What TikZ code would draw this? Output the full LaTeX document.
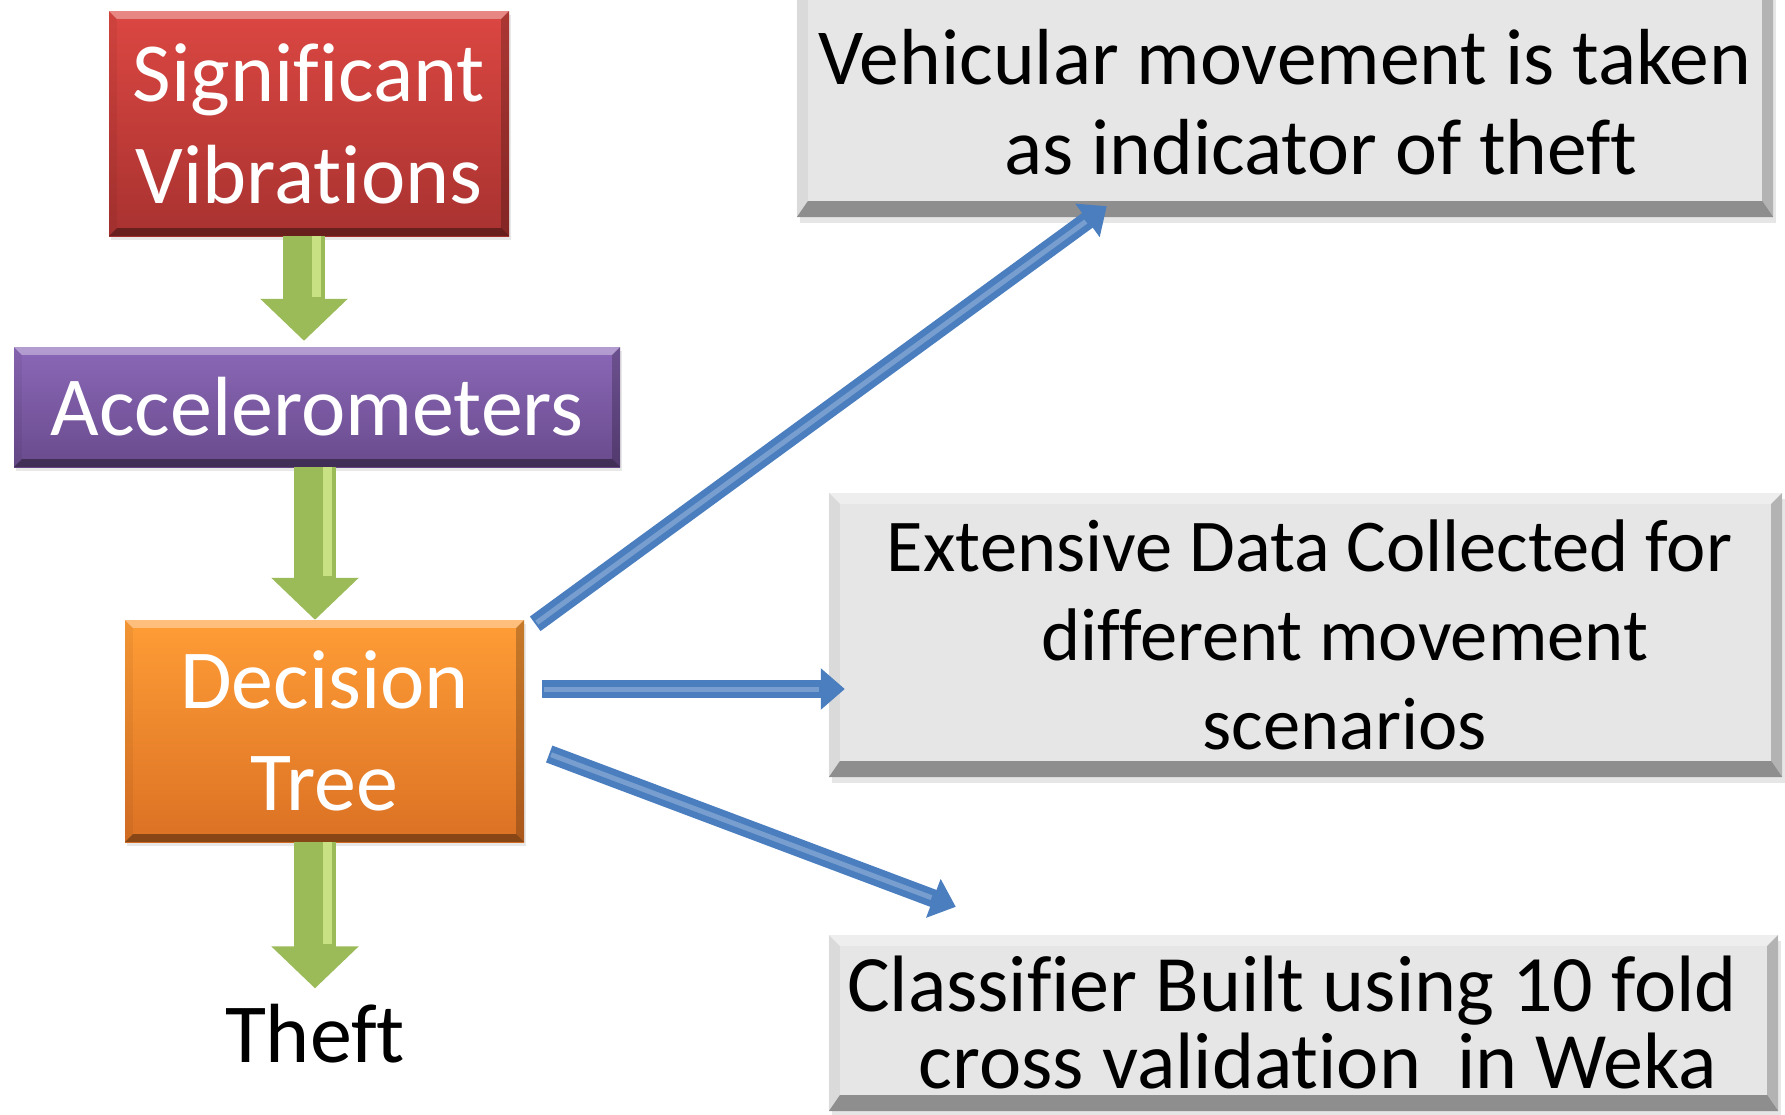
\documentclass[tikz,border=0pt]{standalone}
\usepackage{fontspec}
\setmainfont{Carlito}[Ligatures={NoCommon}]
\usetikzlibrary{arrows.meta,shadows}
\definecolor{redT}{HTML}{DC4742}
\definecolor{redB}{HTML}{A83230}
\definecolor{purT}{HTML}{8B68B8}
\definecolor{purB}{HTML}{694A8C}
\definecolor{orgT}{HTML}{FF9D36}
\definecolor{orgB}{HTML}{DB7124}
\definecolor{grnA}{HTML}{9BBB59}
\definecolor{grnL}{HTML}{C8E183}
\definecolor{bluA}{HTML}{4A7EBE}
\definecolor{grayF}{HTML}{E6E6E6}
\newcommand\bevelit[3]{% node, side thickness, bottom thickness
  \fill[white,opacity=.35] (#1.north west) -- (#1.north east) -- ([xshift=-#2,yshift=-#2]#1.north east) -- ([xshift=#2,yshift=-#2]#1.north west) -- cycle;
  \fill[black,opacity=.05] (#1.north west) -- ([xshift=#2,yshift=-#2]#1.north west) -- ([xshift=#2,yshift=#3]#1.south west) -- (#1.south west) -- cycle;
  \fill[black,opacity=.22] (#1.north east) -- ([xshift=-#2,yshift=-#2]#1.north east) -- ([xshift=-#2,yshift=#3]#1.south east) -- (#1.south east) -- cycle;
  \fill[black,opacity=.38] (#1.south west) -- (#1.south east) -- ([xshift=-#2,yshift=#3]#1.south east) -- ([xshift=#2,yshift=#3]#1.south west) -- cycle;
}
\tikzset{
  colbox/.style={rectangle, inner sep=0pt, text=white, align=center,
    font=\fontsize{84pt}{102pt}\selectfont,
    drop shadow={shadow xshift=2pt, shadow yshift=-4pt, opacity=.18}},
  graybox/.style={rectangle, inner sep=0pt, fill=grayF, text=black, align=center,
    font=\fontsize{79.5pt}{90pt}\selectfont,
    drop shadow={shadow xshift=3pt, shadow yshift=-6pt, opacity=.2}},
  greenarrow/.style={draw=grnA, line width=42pt,
    -{Triangle[width=85pt,length=42pt]}, color=grnA},
  greenshine/.style={draw=grnL, line width=9pt, shorten >=44pt},
  bluearrow/.style={draw=bluA, line width=18pt,
    -{Triangle[width=40pt,length=24pt]}, color=bluA},
  blueshine/.style={draw=white, opacity=.25, line width=5pt, shorten >=26pt, shorten <=2pt},
}
\begin{document}
\begin{tikzpicture}[x=1pt,y=-1pt]
\useasboundingbox (0,0) rectangle (1785,1114);

% left column
\node[colbox, top color=redT, bottom color=redB, minimum width=400pt, minimum height=225pt]
  (sig) at (309,123.5) {Significant\\Vibrations};
\node[colbox, top color=purT, bottom color=purB, minimum width=606pt, minimum height=120pt]
  (acc) at (317,407) {Accelerometers};
\node[colbox, top color=orgT, bottom color=orgB, minimum width=399pt, minimum height=222pt]
  (dec) at (324.5,731) {Decision\\Tree};
\node[inner sep=0pt, font=\fontsize{84pt}{102pt}\selectfont] (theft) at (315,1034) {Theft};

\bevelit{sig}{8pt}{8pt}
\bevelit{acc}{8pt}{8pt}
\bevelit{dec}{8pt}{8pt}

% right column
\node[graybox, minimum width=976pt, minimum height=229pt] (g1) at (1285,102.5)
  {Vehicular movement is taken\\\hspace*{72pt}as indicator of theft};
\node[graybox, font=\fontsize{74.5pt}{89pt}\selectfont, minimum width=953pt, minimum height=284pt] (g2) at (1305.5,635)
  {\hspace*{8pt}Extensive Data Collected for\\\hspace*{78pt}different movement\\\hspace*{78pt}scenarios};
\node[graybox, font=\fontsize{80pt}{77pt}\selectfont, minimum width=949pt, minimum height=176pt] (g3) at (1303.5,1023)
  {Classifier Built using 10 fold\hspace*{23pt}\\\hspace*{29pt}cross validation\ \ in Weka};

\bevelit{g1}{11pt}{16pt}
\bevelit{g2}{11pt}{16pt}
\bevelit{g3}{11pt}{16pt}

% green flow arrows
\draw[greenarrow] ([xshift=-5pt]sig.south) -- ([xshift=-5pt,yshift=6pt]sig.south |- acc.north);
\draw[greenshine] ([xshift=7pt]sig.south) -- ([xshift=7pt,yshift=6pt]sig.south |- acc.north);
\draw[greenarrow] (acc.south -| theft.north) -- (dec.north -| theft.north);
\draw[greenshine] ([xshift=12pt]acc.south -| theft.north) -- ([xshift=12pt]dec.north -| theft.north);
\draw[greenarrow] (dec.south -| theft.north) -- ([yshift=16pt]theft.north);
\draw[greenshine] ([xshift=12pt]dec.south -| theft.north) -- ([xshift=12pt,yshift=16pt]theft.north);

% blue arrows
\draw[bluearrow] ([shift={(11,4)}]dec.north east) -- ([shift={(310,-11)}]g1.south west);
\draw[blueshine] ([shift={(11,4)}]dec.north east) -- ([shift={(310,-11)}]g1.south west);
\draw[bluearrow] ([shift={(18,-42)}]dec.east) -- ([shift={(16,54)}]g2.west);
\draw[blueshine] ([shift={(18,-42)}]dec.east) -- ([shift={(16,54)}]g2.west);
\draw[bluearrow] ([shift={(25,23)}]dec.east) -- ([shift={(127,-28)}]g3.north west);
\draw[blueshine] ([shift={(25,23)}]dec.east) -- ([shift={(127,-28)}]g3.north west);
\end{tikzpicture}
\end{document}
